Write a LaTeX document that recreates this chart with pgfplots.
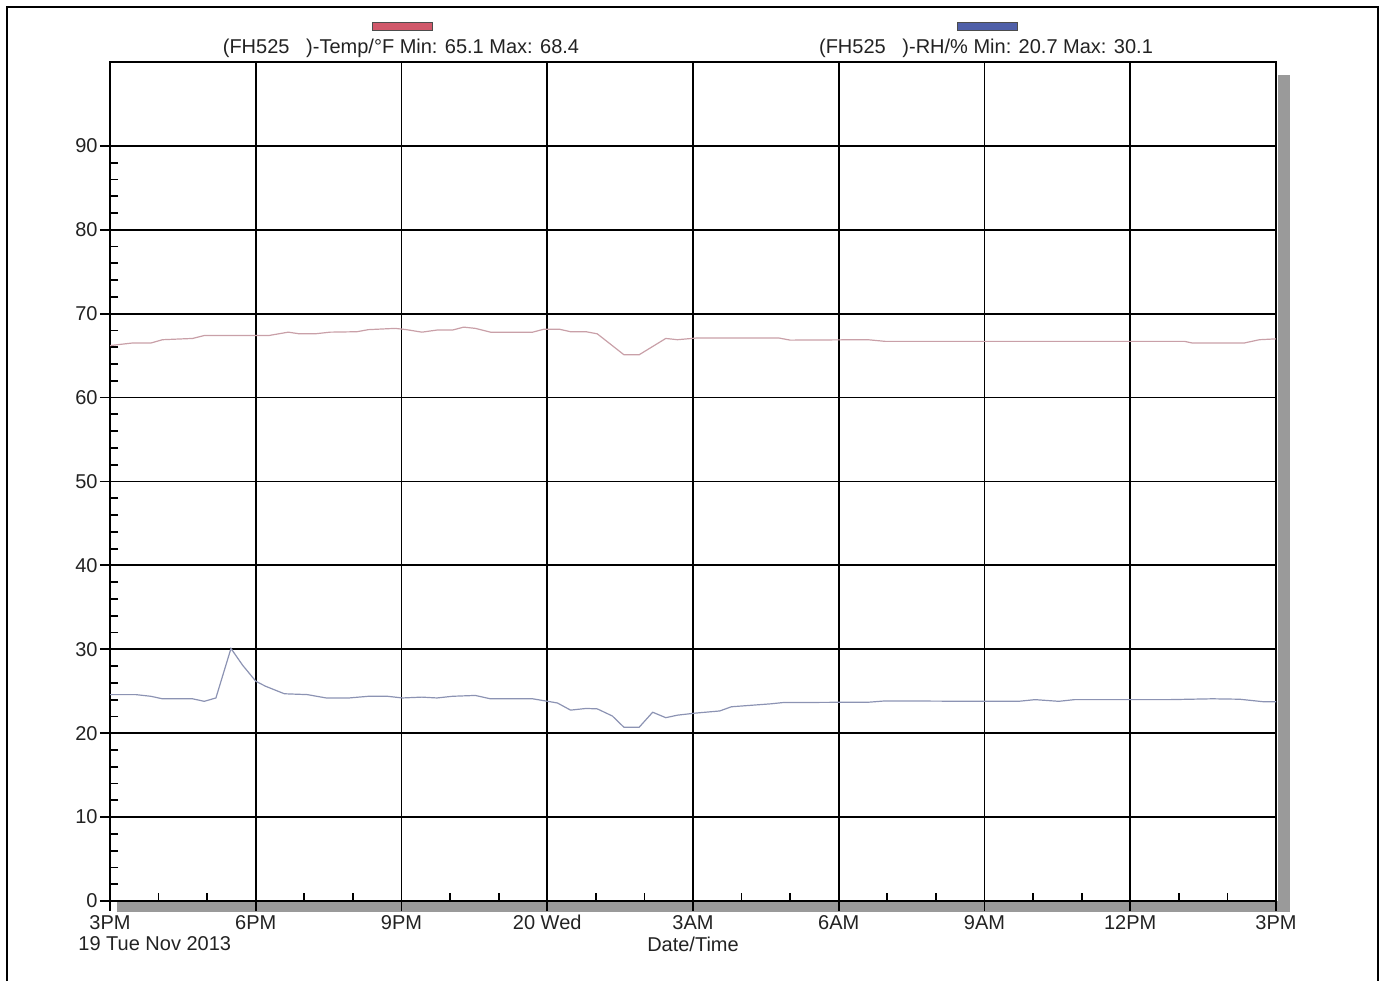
\documentclass[border=0pt]{standalone}
\usepackage{pgfplots}
\pgfplotsset{compat=1.18}
\usepackage{fontspec}
\setmainfont{Liberation Sans}
\definecolor{tempc}{HTML}{C9A0A8}
\definecolor{rhc}{HTML}{8C93B3}
\definecolor{tempLeg}{HTML}{D0586A}
\definecolor{rhLeg}{HTML}{4F5FA8}
\definecolor{shad}{HTML}{9A9A9A}
\definecolor{txt}{HTML}{222222}
\begin{document}
\begin{tikzpicture}
\useasboundingbox (0,0) rectangle (691.5pt,490.5pt);
% outer frame (left, top, right)
\draw[line width=1pt,black] (3.5pt,0pt) -- (3.5pt,487pt) -- (689pt,487pt) -- (689pt,0pt);
% shadow
\fill[shad] (639pt,453pt) rectangle (645pt,34.5pt);
\fill[shad] (58.5pt,40pt) rectangle (645pt,34.5pt);
% legend
\fill[tempLeg,draw=black!70,line width=0.4pt] (186pt,479.5pt) rectangle (216pt,475.5pt);
\fill[rhLeg,draw=black!70,line width=0.4pt] (478.5pt,479.5pt) rectangle (508.5pt,475.5pt);
\node[font=\fontsize{10}{12}\selectfont,text=txt] at (200.5pt,466.5pt) {(FH525\ \ \ )-Temp/°F Min: 65.1 Max: 68.4};
\node[font=\fontsize{10}{12}\selectfont,text=txt] at (493pt,466.5pt) {(FH525\ \ \ )-RH/\% Min: 20.7 Max: 30.1};
\begin{axis}[
  at={(55pt,40pt)}, anchor=south west,
  scale only axis, width=583pt, height=419.5pt,
  xmin=0, xmax=24, ymin=0, ymax=100,
  xtick={0,3,...,24},
  xticklabels={3PM,6PM,9PM,20 Wed,3AM,6AM,9AM,12PM,3PM},
  ytick={0,10,...,90},
  minor x tick num=2,
  minor y tick num=4,
  grid=major,
  major grid style={black, line width=0.9pt},
  axis line style={black, line width=1pt},
  tick align=outside,
  major tick length=5pt,
  minor tick length=-4pt,
  tick style={black, line width=0.9pt},
  xtick pos=bottom, ytick pos=left,
  /pgf/number format/assume math mode=true,
  ticklabel style={font=\fontsize{10}{12}\selectfont, text=txt},
  xticklabel style={yshift=-0.8pt, inner sep=1pt, text height=7.2pt, text depth=0.5pt},
  yticklabel style={inner sep=1pt},
]
\addplot[tempc, line width=0.6pt] coordinates {
(0,66.2) (0.45,66.5) (0.84,66.5) (1.08,66.9) (1.70,67.05) (1.94,67.4) (3.27,67.4) (3.67,67.8) (3.90,67.6) (4.22,67.6) (4.53,67.8) (5.08,67.85) (5.32,68.1) (5.87,68.25) (6.10,68.1) (6.42,67.8) (6.73,68.05) (7.05,68.05) (7.28,68.4) (7.52,68.25) (7.83,67.8) (8.70,67.8) (8.93,68.15) (9.25,68.15) (9.48,67.85) (9.80,67.85) (10.03,67.6) (10.58,65.1) (10.89,65.1) (11.44,67.05) (11.68,66.9) (12.07,67.1) (13.77,67.1) (14.0,66.85) (15.6,66.9) (15.96,66.7) (22.12,66.7) (22.28,66.5) (23.34,66.5) (23.66,66.9) (24.0,67.0)
};
\addplot[rhc, line width=0.6pt] coordinates {
(0,24.6) (0.53,24.6) (0.84,24.4) (1.08,24.1) (1.70,24.1) (1.94,23.8) (2.18,24.2) (2.49,30.1) (2.73,28.1) (3.0,26.2) (3.20,25.6) (3.59,24.7) (4.06,24.6) (4.45,24.2) (4.92,24.2) (5.32,24.4) (5.71,24.4) (6.02,24.2) (6.42,24.3) (6.73,24.2) (7.05,24.4) (7.52,24.5) (7.83,24.1) (8.70,24.1) (9.01,23.8) (9.21,23.6) (9.48,22.75) (9.80,22.95) (10.03,22.9) (10.34,22.05) (10.58,20.7) (10.89,20.7) (11.17,22.5) (11.44,21.85) (11.68,22.15) (12.06,22.4) (12.55,22.65) (12.79,23.15) (13.6,23.5) (13.85,23.65) (15.63,23.7) (15.96,23.85) (17.9,23.8) (18.7,23.8) (19.04,24.0) (19.53,23.8) (19.85,24.0) (21.8,24.0) (22.69,24.1) (23.25,24.05) (23.74,23.75) (24.0,23.75)
};
\end{axis}
\node[font=\fontsize{10}{12}\selectfont,text=txt,anchor=west,inner sep=0pt] at (39pt,18.5pt) {19 Tue Nov 2013};
\node[font=\fontsize{10}{12}\selectfont,text=txt,inner sep=0pt] at (346.5pt,18.5pt) {Date/Time};
\end{tikzpicture}
\end{document}
